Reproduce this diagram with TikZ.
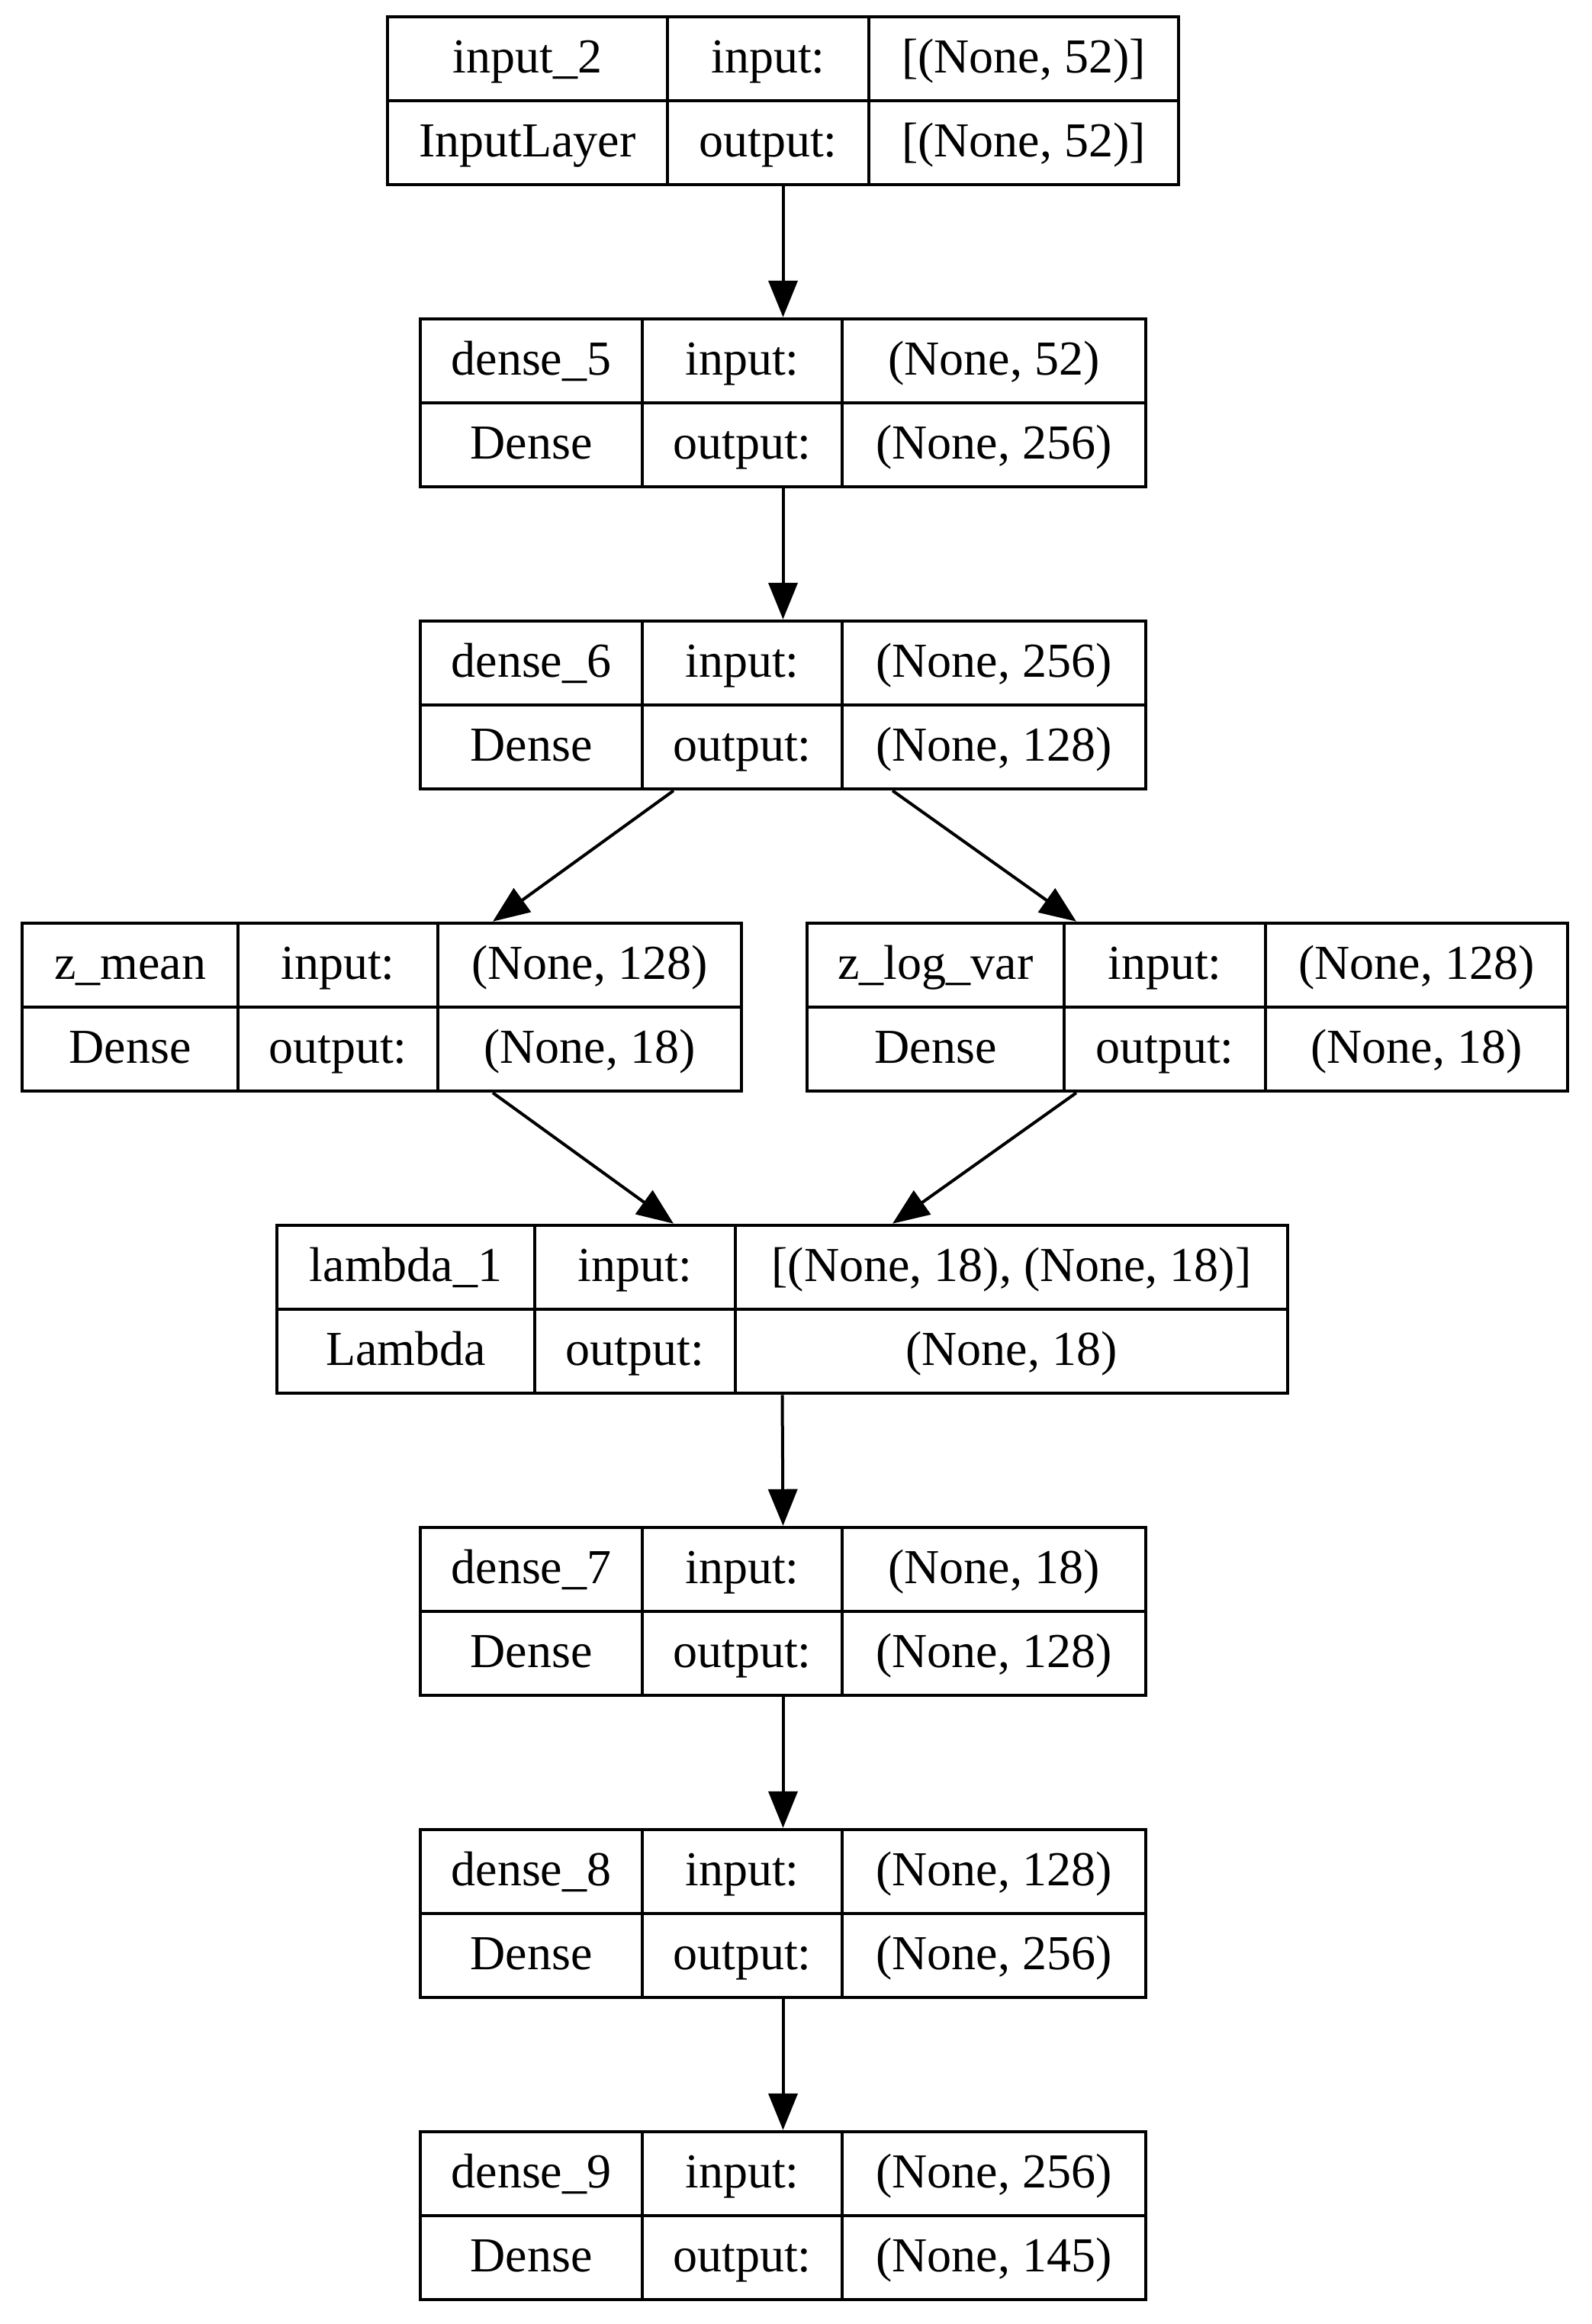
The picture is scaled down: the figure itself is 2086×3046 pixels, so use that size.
\documentclass[tikz,border=0pt]{standalone}
\usepackage{fontspec}
\setmainfont{Liberation Serif}
\usetikzlibrary{arrows.meta,fit}
\tikzset{
  frame/.style={draw, line width=4.5pt, inner sep=0pt},
  rule/.style={line width=4pt},
  lbl/.style={font=\fontsize{64}{77}\selectfont, inner sep=0pt, anchor=base},
  arr/.style={line width=4pt, -{Triangle[length=48pt,width=38pt]}},
}
% #1 name, #2..#5 x positions of left, divider1, divider2, right, #6 top y
\newcommand\klayer[6]{%
  \node[frame, fit={(#2,#6) (#5,#6+220)}] (#1) {};
  \draw[rule] (#2,#6+110) -- (#5,#6+110);
  \draw[rule] (#3,#6) -- (#3,#6+220);
  \draw[rule] (#4,#6) -- (#4,#6+220);
  \coordinate (#1-c1) at ({(#2+#3)/2},#6);
  \coordinate (#1-c2) at ({(#3+#4)/2},#6);
  \coordinate (#1-c3) at ({(#4+#5)/2},#6);
}
% #1 name, #2 layer name, #3 class, #4 input shape, #5 output shape
\newcommand\ktext[5]{%
  \node[lbl] (#1-t1) at ([yshift=-73pt]#1-c1) {#2};
  \node[lbl] (#1-t2) at ([yshift=-73pt]#1-c2) {input:};
  \node[lbl] (#1-t3) at ([yshift=-73pt]#1-c3) {#4};
  \node[lbl] (#1-b1) at ([yshift=-183pt]#1-c1) {#3};
  \node[lbl] (#1-b2) at ([yshift=-183pt]#1-c2) {output:};
  \node[lbl] (#1-b3) at ([yshift=-183pt]#1-c3) {#5};
}
\begin{document}
\begin{tikzpicture}[x=1pt,y=-1pt]
  \useasboundingbox (0,0) rectangle (2086,3046);

  \klayer{in2}{508}{875}{1139}{1545}{22}
  \ktext{in2}{input\_2}{InputLayer}{[(None, 52)]}{[(None, 52)]}

  \klayer{d5}{551}{842}{1104}{1502}{418}
  \ktext{d5}{dense\_5}{Dense}{(None, 52)}{(None, 256)}

  \klayer{d6}{551}{842}{1104}{1502}{814}
  \ktext{d6}{dense\_6}{Dense}{(None, 256)}{(None, 128)}

  \klayer{zm}{29}{312}{574}{972}{1210}
  \ktext{zm}{z\_mean}{Dense}{(None, 128)}{(None, 18)}

  \klayer{zl}{1058}{1395}{1659}{2055}{1210}
  \ktext{zl}{z\_log\_var}{Dense}{(None, 128)}{(None, 18)}

  \klayer{lam}{363}{701}{964}{1688}{1606}
  \ktext{lam}{lambda\_1}{Lambda}{[(None, 18), (None, 18)]}{(None, 18)}

  \klayer{d7}{551}{842}{1104}{1502}{2002}
  \ktext{d7}{dense\_7}{Dense}{(None, 18)}{(None, 128)}

  \klayer{d8}{551}{842}{1104}{1502}{2398}
  \ktext{d8}{dense\_8}{Dense}{(None, 128)}{(None, 256)}

  \klayer{d9}{551}{842}{1104}{1502}{2794}
  \ktext{d9}{dense\_9}{Dense}{(None, 256)}{(None, 145)}

  \draw[arr] (in2.south) -- (d5.north);
  \draw[arr] (d5.south) -- (d6.north);
  \draw[arr] ([xshift=-143.5pt]d6.south) -- ([xshift=145.5pt]zm.north);
  \draw[arr] ([xshift=143.5pt]d6.south) -- ([xshift=-145.5pt]zl.north);
  \draw[arr] ([xshift=145.5pt]zm.south) -- ([xshift=-142.5pt]lam.north);
  \draw[arr] ([xshift=-145.5pt]zl.south) -- ([xshift=144.5pt]lam.north);
  \draw[arr] (lam.south) -- (d7.north);
  \draw[arr] (d7.south) -- (d8.north);
  \draw[arr] (d8.south) -- (d9.north);
\end{tikzpicture}
\end{document}
